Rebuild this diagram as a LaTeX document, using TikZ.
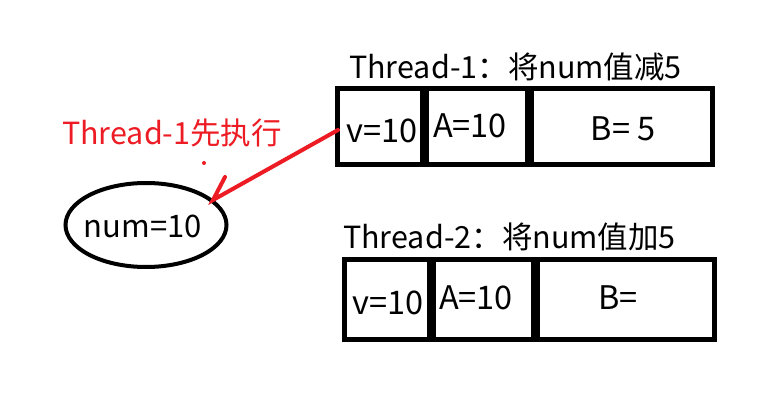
\documentclass[tikz,border=0pt]{standalone}
\usepackage{fontspec}
\setmainfont{Noto Sans CJK SC}
\usetikzlibrary{shapes.geometric}
\definecolor{pred}{RGB}{237,28,36}
\begin{document}
\begin{tikzpicture}[x=1pt,y=-1pt,
  cell/.style={draw=black,line width=5pt},
  celltext/.style={font=\fontsize{32.5}{34}\selectfont,inner sep=0pt,anchor=center},
  title/.style={font=\fontsize{30.5}{33}\selectfont,inner sep=0pt,anchor=west},
  redline/.style={draw=pred,line width=4pt,line cap=round}]
\useasboundingbox (0,0) rectangle (764,409);
\fill[white] (0,0) rectangle (764,409);
% Thread-1 row
\node[title] (t1) at (349,67) {Thread-1：将num值减5};
\draw[cell] (337,89) rectangle (422,165);
\draw[cell] (426,89) rectangle (527,165);
\draw[cell] (531,89) rectangle (712,165);
\node[celltext] (v1) at (382,131) {v=10};
\node[celltext] (a1) at (470,126) {A=10};
\node[celltext] (b1) at (623,129) {B= 5};
% Thread-2 row
\node[title] (t2) at (343,237) {Thread-2：将num值加5};
\draw[cell] (344,260) rectangle (429,339);
\draw[cell] (433,260) rectangle (533,339);
\draw[cell] (537,260) rectangle (714,339);
\node[celltext] (v2) at (388,303) {v=10};
\node[celltext] (a2) at (476,298) {A=10};
\node[celltext] (b2) at (618,298) {B=};
% num ellipse
\node[draw=black,line width=4pt,ellipse,minimum width=161pt,minimum height=84pt,inner sep=0pt] (num) at (146,225) {};
\node[celltext,font=\fontsize{31}{33}\selectfont] (numt) at (143,226) {num=10};
% red label and arrow
\node[inner sep=0pt,anchor=center,text=pred,font=\fontsize{30.5}{33}\selectfont] (lbl) at (172,133) {Thread-1先执行};
\fill[pred] (204,163) circle (2pt);
\coordinate (start) at (338,130);
\coordinate (tip) at (213,200);
\coordinate (wing) at (225,177);
\draw[redline] (start) -- (tip) -- (wing);
\end{tikzpicture}
\end{document}
